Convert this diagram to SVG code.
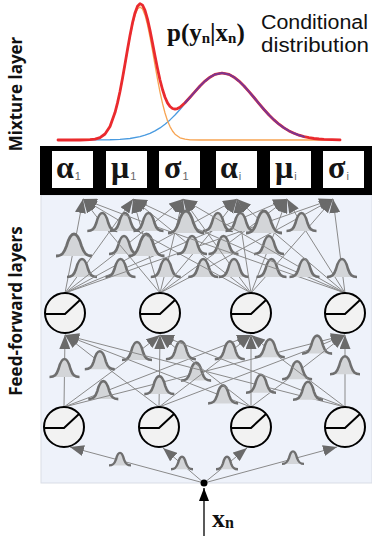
<svg xmlns="http://www.w3.org/2000/svg" width="372" height="536" viewBox="0 0 372 536">
<style>
.w{fill:none;stroke:#8a8a8a;stroke-width:1;marker-mid:url(#gm);marker-end:url(#ah)}
.wl{fill:none;stroke:#8a8a8a;stroke-width:1;marker-mid:url(#gl);marker-end:url(#ah)}
.wi{fill:none;stroke:#8a8a8a;stroke-width:1;marker-mid:url(#gs);marker-end:url(#ah)}
.nc{fill:#f2f2f2;stroke:#000;stroke-width:2}
.rl{fill:none;stroke:#000;stroke-width:2}
.box{fill:#fff}
.gk{font-family:"Liberation Serif",serif;font-weight:bold;font-size:32px;fill:#151515}
.sb{font-family:"Liberation Sans",sans-serif;font-weight:normal;font-size:11px;fill:#666}
.lab{font-family:"Open Sans","Liberation Sans",sans-serif;font-weight:bold;font-size:17px;fill:#111}
.cd{font-family:"Liberation Sans",sans-serif;font-size:20px;fill:#111}
.mt{font-family:"Liberation Serif",serif;font-weight:bold;fill:#111}
</style>
<defs>
<marker id="ah" markerUnits="userSpaceOnUse" markerWidth="14" markerHeight="11" refX="14" refY="5.5" orient="auto" viewBox="0 0 14 11">
<path d="M0,0 L14,5.5 L0,11 Z" fill="#6a6a6a"/>
</marker>
<marker id="ahb" markerUnits="userSpaceOnUse" markerWidth="13" markerHeight="10" refX="13" refY="5" orient="auto" viewBox="0 0 13 10">
<path d="M0,0 L13,5 L0,10 Z" fill="#000"/>
</marker>
<marker id="gm" markerUnits="userSpaceOnUse" markerWidth="34" markerHeight="26" viewBox="-17 -13 34 26" refX="0" refY="0" overflow="visible">
<path d="M-15,7 C-10,7 -8,5 -6,-1 C-4.5,-7 -2.5,-11 0,-11 C2.5,-11 4.5,-7 6,-1 C8,5 10,7 15,7 Z" fill="#d3d5d8"/>
<path d="M-15,7 C-10,7 -8,5 -6,-1 C-4.5,-7 -2.5,-11 0,-11 C2.5,-11 4.5,-7 6,-1 C8,5 10,7 15,7" fill="none" stroke="#6f6f6f" stroke-width="2.6"/>
</marker>
<marker id="gl" markerUnits="userSpaceOnUse" markerWidth="40" markerHeight="30" viewBox="-20 -15 40 30" refX="0" refY="0" overflow="visible">
<path d="M-18,9 C-12,9 -10,6 -7.5,-1 C-5.5,-8 -3,-13 0,-13 C3,-13 5.5,-8 7.5,-1 C10,6 12,9 18,9 Z" fill="#d3d5d8"/>
<path d="M-18,9 C-12,9 -10,6 -7.5,-1 C-5.5,-8 -3,-13 0,-13 C3,-13 5.5,-8 7.5,-1 C10,6 12,9 18,9" fill="none" stroke="#6f6f6f" stroke-width="2.8"/>
</marker>
<marker id="gs" markerUnits="userSpaceOnUse" markerWidth="26" markerHeight="20" viewBox="-13 -10 26 20" refX="0" refY="0" overflow="visible">
<path d="M-11,5 C-7,5 -5.5,3.5 -4,-1 C-3,-5 -1.7,-7.5 0,-7.5 C1.7,-7.5 3,-5 4,-1 C5.5,3.5 7,5 11,5 Z" fill="#d3d5d8"/>
<path d="M-11,5 C-7,5 -5.5,3.5 -4,-1 C-3,-5 -1.7,-7.5 0,-7.5 C1.7,-7.5 3,-5 4,-1 C5.5,3.5 7,5 11,5" fill="none" stroke="#6f6f6f" stroke-width="2.4"/>
</marker>
</defs>

<rect x="0" y="0" width="372" height="536" fill="#fff"/>

<g id="panel">
<rect x="41" y="195" width="331" height="288" fill="#eef2fa" stroke="#d9dde6" stroke-width="1"/>
</g>

<g id="mixture-curve" fill="none" stroke-linejoin="round" stroke-linecap="round">
<polyline stroke="#4a9be0" stroke-width="1.3" points="58,140 100,139.9 110,139.75 120,139.35 130,138.5 140,136.65 145,135.2 150,133.3 155,130.9 160,127.9 165,124.2 170,119.9 175,115 180,109.5 185,103.6 190,97.5 195,91.6 200,86 205,81.1 210,77.2 215,74.4 222,73 229,74.4 234,77.2 239,81.1 244,86 249,91.6 254,97.5 259,103.6 264,109.5 269,115 274,119.9 279,124.2 284,127.9 289,130.9 294,133.3 299,135.2 304,136.65 309,137.7 314,138.5 319,139 324,139.35 332,139.7 340,139.9"/>
<polyline stroke="#f7a452" stroke-width="1.3" points="58,140 95,139.2 100,137.8 105,134.2 110,126.6 115,113 117.5,103.4 120,92.1 122.5,79.1 125,65.1 127.5,50.7 130,37 132.5,24.8 135,15.2 137.5,9.1 140,7 142.5,9.1 145,15.2 147.5,24.8 150,37 152.5,50.7 155,65.1 157.5,79.1 160,92.1 162.5,103.4 165,113 167.5,120.7 170,126.6 172.5,131 175,134.2 180,137.8 185,139.2 190,139.8 200,140 340,140"/>
<polyline stroke="#ea2a2e" stroke-width="2.8" points="58,140 80,140 90,139.7 95,139.2 100,137.7 105,134 110,126.4 115,112.6 117.5,102.9 120,91.5 122.5,78.3 125,64.1 127.5,49.4 130,35.5 132.5,22.9 135,12.9 137.5,6.3 140,3.65 142.5,5.1 145,10.4 147.5,19.1 150,30.3 152.5,42.9 155,56 157.5,68.6 160,80 162.5,89.5 165,97.2 167.5,102.9 170,106.5 172.5,108.5 175,109.2 177.5,108.6 180,107.3 185,102.8 190,97.3 195,91.6 200,86 205,81.1 210,77.2 215,74.4 222,73 229,74.4 234,77.2 239,81.1 244,86 249,91.6 254,97.5 259,103.6 264,109.5 269,115 274,119.9 279,124.2 284,127.9 289,130.9 294,133.3 299,135.2 304,136.65 309,137.7 314,138.5 319,139 324,139.35 332,139.7 340,139.9"/>
<polyline stroke="#7d3590" stroke-width="2" points="185,102.8 190,97.3 195,91.6 200,86 205,81.1 210,77.2 215,74.4 222,73 229,74.4 234,77.2 239,81.1 244,86 249,91.6 254,97.5 259,103.6 264,109.5 269,115 274,119.9 279,124.2 284,127.9 289,130.9 294,133.3 299,135.2 304,136.65"/>
</g>

<g id="connectors">
<path class="wl" d="M65,293 L74,247 L83,199"/>
<path class="w" d="M65,293 L82,270 L133,199"/>
<path class="w" d="M65,293 L124,247 L183,199"/>
<path class="w" d="M65,293 L237,199"/>
<path class="w" d="M65,293 L120.5,270 L287,199"/>
<path class="w" d="M65,293 L333,199"/>
<path class="w" d="M160,293 L102.3,224 L83,199"/>
<path class="wl" d="M160,293 L146.5,247 L133,199"/>
<path class="w" d="M160,293 L165.8,270 L183,199"/>
<path class="w" d="M160,293 L217.8,224 L237,199"/>
<path class="w" d="M160,293 L223.5,247 L287,199"/>
<path class="w" d="M160,293 L203.3,270 L333,199"/>
<path class="w" d="M251,293 L125,224 L83,199"/>
<path class="w" d="M251,293 L192,247 L133,199"/>
<path class="w" d="M251,293 L234,270 L183,199"/>
<path class="w" d="M251,293 L240.5,224 L237,199"/>
<path class="w" d="M251,293 L269,247 L287,199"/>
<path class="w" d="M251,293 L271.5,270 L333,199"/>
<path class="w" d="M345,293 L148.5,224 L83,199"/>
<path class="wl" d="M345,293 L186,224 L133,199"/>
<path class="w" d="M345,293 L304.5,270 L183,199"/>
<path class="wl" d="M345,293 L264,224 L237,199"/>
<path class="w" d="M345,293 L301.5,224 L287,199"/>
<path class="w" d="M345,293 L342,270 L333,199"/>

<path class="w" d="M64,407 L64.5,370 L65,335"/>
<path class="w" d="M64,407 L137,353 L160,335"/>
<path class="w" d="M64,407 L103.3,392.1 L251,335"/>
<path class="w" d="M64,407 L196.1,373.6 L345,335"/>
<path class="w" d="M159,407 L99.8,362.3 L65,335"/>
<path class="w" d="M159,407 L159.3,387.1 L160,335"/>
<path class="w" d="M159,407 L229.8,352.3 L251,335"/>
<path class="w" d="M159,407 L317.1,346.6 L345,335"/>
<path class="w" d="M251,407 L223.1,396.4 L65,335"/>
<path class="w" d="M251,407 L180.9,352.3 L160,335"/>
<path class="w" d="M251,407 L251,335"/>
<path class="w" d="M251,407 L297.1,372.2 L345,335"/>
<path class="w" d="M345,407 L261,385.7 L65,335"/>
<path class="w" d="M345,407 L308,392.8 L160,335"/>
<path class="w" d="M345,407 L269.8,350.2 L251,335"/>
<path class="w" d="M345,407 L345,367.2 L345,335"/>

<path class="wi" d="M204,483 L120,460.4 L70,447"/>
<path class="wi" d="M204,483 L182,464.2 L163,448"/>
<path class="wi" d="M204,483 L227,464.3 L247,448"/>
<path class="wi" d="M204,483 L293,458.9 L337,447"/>

<path d="M204,536 L204,488" fill="none" stroke="#000" stroke-width="1.3" marker-end="url(#ahb)"/>
</g>

<g id="hidden-1"><circle class="nc" cx="65" cy="313" r="20"/><polyline class="rl" points="45.5,314 65,314 80,300"/></g>
<g id="hidden-2"><circle class="nc" cx="160" cy="313" r="20"/><polyline class="rl" points="140.5,314 160,314 175,300"/></g>
<g id="hidden-3"><circle class="nc" cx="251" cy="313" r="20"/><polyline class="rl" points="231.5,314 251,314 266,300"/></g>
<g id="hidden-4"><circle class="nc" cx="345" cy="313" r="20"/><polyline class="rl" points="325.5,314 345,314 360,300"/></g>

<g id="input-1"><circle class="nc" cx="64" cy="427" r="20"/><polyline class="rl" points="44.5,428 64,428 79,414"/></g>
<g id="input-2"><circle class="nc" cx="159" cy="427" r="20"/><polyline class="rl" points="139.5,428 159,428 174,414"/></g>
<g id="input-3"><circle class="nc" cx="251" cy="427" r="20"/><polyline class="rl" points="231.5,428 251,428 266,414"/></g>
<g id="input-4"><circle class="nc" cx="345" cy="427" r="20"/><polyline class="rl" points="325.5,428 345,428 360,414"/></g>

<g id="input-node"><circle cx="204" cy="483" r="3.5" fill="#000"/>
<text class="mt" x="212" y="527" font-size="26">x<tspan font-size="16" dy="1">n</tspan></text></g>

<g id="mixture-layer">
<rect x="40" y="146" width="332" height="49" fill="#000"/>
<g id="alpha1"><rect class="box" x="52" y="151" width="41" height="37"/><text class="gk" x="56" y="178">α<tspan class="sb" dx="1" dy="2">1</tspan></text></g>
<g id="mu1"><rect class="box" x="106" y="151" width="41" height="37"/><text class="gk" x="111" y="178">μ<tspan class="sb" dx="1" dy="2">1</tspan></text></g>
<g id="sigma1"><rect class="box" x="159" y="151" width="41" height="37"/><text class="gk" x="164" y="178">σ<tspan class="sb" dx="1" dy="2">1</tspan></text></g>
<g id="alphai"><rect class="box" x="216" y="151" width="41" height="37"/><text class="gk" x="220" y="178">α<tspan class="sb" dx="1" dy="2">i</tspan></text></g>
<g id="mui"><rect class="box" x="270" y="151" width="41" height="37"/><text class="gk" x="275" y="178">μ<tspan class="sb" dx="1" dy="2">i</tspan></text></g>
<g id="sigmai"><rect class="box" x="323" y="151" width="41" height="37"/><text class="gk" x="328" y="178">σ<tspan class="sb" dx="1" dy="2">i</tspan></text></g>
</g>

<g id="labels">
<text class="mt" x="167" y="41" font-size="25">p(y<tspan font-size="15" dy="2">n</tspan><tspan dy="-2">|x</tspan><tspan font-size="15" dy="2">n</tspan><tspan dy="-2">)</tspan></text>
<text class="cd" x="261" y="29" textLength="107" lengthAdjust="spacingAndGlyphs">Conditional</text>
<text class="cd" x="261" y="52" textLength="108" lengthAdjust="spacingAndGlyphs">distribution</text>
<text class="lab" transform="translate(22,94) rotate(-90)" text-anchor="middle">Mixture layer</text>
<text class="lab" transform="translate(22,311) rotate(-90)" text-anchor="middle">Feed-forward layers</text>
</g>
</svg>
